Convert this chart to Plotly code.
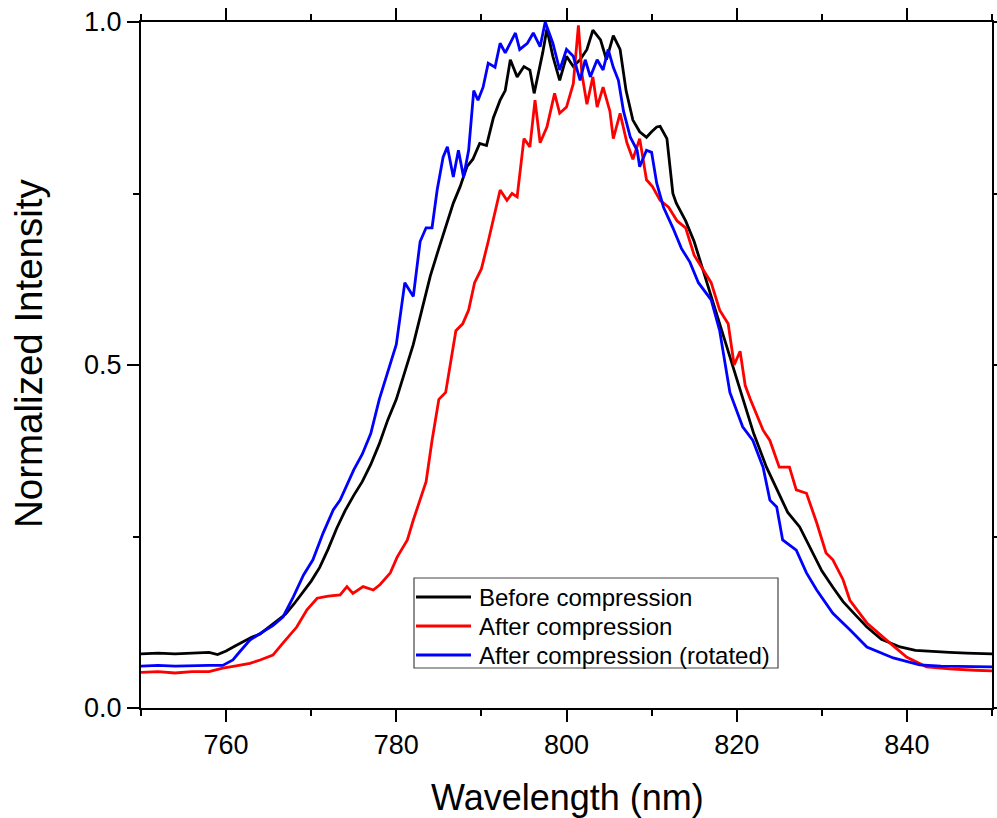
import plotly.graph_objects as go

# ---------------- data ----------------
before_x = [750, 752, 754, 756, 758, 759, 760, 761, 762, 763, 764, 765, 766, 767, 768, 769, 770, 771, 772, 773,
            774, 775, 776, 777, 778, 779, 780, 781, 782, 783, 784, 785, 786, 786.7, 787.5, 788.3, 789, 789.8, 790.6,
            791.4, 792.2, 792.8, 793.4, 794.2, 795, 795.7, 796.2, 797.2, 797.7, 798.4, 799.2, 800, 800.8, 801.6,
            802.4, 803.1, 804, 804.7, 805.5, 806.3, 807, 807.8, 808.6, 809.4, 810, 810.6, 811, 811.8, 812.5, 812.9,
            814, 815, 816, 817, 818, 819, 820, 820.7, 822, 823.5, 825, 826, 827.4, 829, 830, 831.3, 832.5, 834,
            835.3, 837, 839.2, 841, 843, 845, 847, 849, 850]
before_y = [0.079, 0.080, 0.079, 0.080, 0.081, 0.078, 0.083, 0.090, 0.097, 0.103, 0.108, 0.118, 0.127, 0.137, 0.152,
            0.168, 0.185, 0.205, 0.232, 0.262, 0.288, 0.310, 0.330, 0.355, 0.385, 0.420, 0.450, 0.490, 0.530, 0.580,
            0.630, 0.670, 0.710, 0.736, 0.760, 0.789, 0.800, 0.823, 0.820, 0.860, 0.886, 0.900, 0.945, 0.920, 0.935,
            0.930, 0.896, 0.955, 0.990, 0.950, 0.915, 0.950, 0.935, 0.945, 0.960, 0.988, 0.974, 0.945, 0.980, 0.960,
            0.900, 0.857, 0.840, 0.832, 0.840, 0.847, 0.848, 0.830, 0.750, 0.736, 0.710, 0.680, 0.640, 0.600, 0.560,
            0.520, 0.480, 0.449, 0.400, 0.351, 0.310, 0.285, 0.264, 0.225, 0.200, 0.176, 0.155, 0.135, 0.118, 0.100,
            0.089, 0.084, 0.082, 0.081, 0.080, 0.079, 0.079]

after_x = [750, 752, 754, 756, 758, 759.6, 761, 762.8, 764, 765.5, 766.7, 768.3, 769.5, 770.7, 772, 773.4, 774.2,
           774.9, 776.1, 777.3, 778.1, 779.3, 780.1, 781.3, 782, 782.8, 783.5, 784.2, 785, 785.8, 786.5, 787, 787.8,
           788.5, 789.2, 790, 790.8, 791.5, 792.2, 793, 793.6, 794.2, 795, 795.7, 796.3, 796.9, 797.7, 798.6, 799.2,
           800, 800.8, 801.4, 801.8, 802.4, 803.1, 803.6, 804.3, 805.1, 805.5, 806.3, 807.1, 807.8, 808.6, 809.4,
           810.1, 811, 812, 813, 814, 815, 816, 817, 818, 819, 819.7, 820.4, 821, 821.6, 823.1, 823.9, 825, 826.2,
           827, 828.2, 829.4, 830.5, 831.3, 832.5, 833.3, 835.3, 837.6, 840, 842.3, 845, 848, 850]
after_y = [0.052, 0.053, 0.051, 0.053, 0.053, 0.058, 0.061, 0.065, 0.070, 0.077, 0.095, 0.118, 0.143, 0.160, 0.163,
           0.165, 0.177, 0.167, 0.177, 0.172, 0.180, 0.197, 0.220, 0.245, 0.274, 0.303, 0.330, 0.390, 0.450, 0.460,
           0.510, 0.550, 0.560, 0.580, 0.620, 0.640, 0.680, 0.720, 0.755, 0.740, 0.750, 0.745, 0.830, 0.818, 0.886,
           0.824, 0.847, 0.896, 0.867, 0.876, 0.910, 0.995, 0.925, 0.880, 0.920, 0.876, 0.905, 0.870, 0.830, 0.867,
           0.824, 0.800, 0.830, 0.770, 0.760, 0.740, 0.730, 0.710, 0.700, 0.660, 0.640, 0.620, 0.580, 0.560, 0.500,
           0.520, 0.470, 0.450, 0.405, 0.390, 0.351, 0.351, 0.318, 0.313, 0.270, 0.226, 0.216, 0.187, 0.157, 0.124,
           0.099, 0.074, 0.060, 0.057, 0.055, 0.054]

rot_x = [750, 752, 754, 756, 758, 759.6, 760.8, 761.6, 762.8, 764.3, 765.5, 766.7, 767.9, 769.1, 770.2, 771.4, 772.6,
         773.4, 774.2, 775, 776, 777, 778, 779, 780, 781, 782, 782.8, 783.5, 784.2, 784.8, 785.5, 786, 786.7, 787.3,
         787.9, 788.5, 789.1, 789.6, 790.2, 790.8, 791.6, 792.2, 792.8, 793.4, 794, 794.5, 795.4, 796.1, 796.9, 797.5,
         797.8, 798.4, 799.2, 800, 800.8, 801.6, 802.2, 802.8, 803.6, 804.3, 804.9, 805.5, 806.1, 806.7, 807.5, 808.3,
         808.6, 809.4, 810, 810.6, 811.4, 812.5, 813.5, 814.5, 815.5, 817, 818, 819.2, 820.7, 821.9, 823.1, 823.9,
         824.7, 825.4, 827, 828.2, 829.4, 831.3, 833.3, 835.3, 838.4, 841.5, 844, 847, 850]
rot_y = [0.061, 0.062, 0.061, 0.062, 0.062, 0.062, 0.070, 0.082, 0.099, 0.111, 0.120, 0.133, 0.162, 0.194, 0.216,
         0.255, 0.289, 0.303, 0.325, 0.347, 0.370, 0.400, 0.450, 0.490, 0.530, 0.620, 0.600, 0.680, 0.700, 0.700,
         0.755, 0.803, 0.818, 0.774, 0.813, 0.774, 0.813, 0.900, 0.886, 0.905, 0.940, 0.934, 0.969, 0.955, 0.969,
         0.984, 0.960, 0.969, 0.984, 0.964, 1.000, 0.990, 0.969, 0.930, 0.960, 0.950, 0.915, 0.945, 0.920, 0.945,
         0.930, 0.960, 0.934, 0.915, 0.870, 0.832, 0.813, 0.789, 0.813, 0.810, 0.765, 0.730, 0.700, 0.670, 0.650,
         0.620, 0.595, 0.550, 0.460, 0.410, 0.390, 0.351, 0.303, 0.293, 0.245, 0.230, 0.197, 0.172, 0.138, 0.114,
         0.089, 0.073, 0.063, 0.061, 0.060, 0.060]

series_names = ["Before compression", "After compression", "After compression (rotated)"]
series_colors = ["#000000", "#FF0000", "#0000FF"]

x_ticks = [760, 780, 800, 820, 840]
y_ticks = [0.0, 0.5, 1.0]

# ---------------- figure ----------------
FONT = "Liberation Sans, Arial, sans-serif"
W, H = 997, 818
ML, MR, MT, MB = 141, 5, 22, 110
PW, PH = W - ML - MR, H - MT - MB


def px_to_paper_x(px):
    return (px - ML) / PW


def px_to_paper_y(py):
    return (H - MB - py) / PH


fig = go.Figure()
for xs, ys, name, col in zip([before_x, after_x, rot_x], [before_y, after_y, rot_y], series_names, series_colors):
    fig.add_trace(go.Scatter(x=xs, y=ys, mode="lines", name=name, showlegend=False,
                             line=dict(color=col, width=2.8)))

axis_common = dict(showline=True, linewidth=2, linecolor="black", mirror="ticks",
                   ticks="outside", tickwidth=2, tickcolor="black", ticklen=12,
                   showgrid=False, zeroline=False, automargin=False,
                   tickfont=dict(family=FONT, size=27, color="black"))

fig.update_xaxes(range=[750, 850], tickvals=x_ticks, ticktext=[str(v) for v in x_ticks],
                 minor=dict(dtick=10, tick0=750, ticks="outside", ticklen=6, tickwidth=2, tickcolor="black"),
                 **axis_common)
fig.update_yaxes(range=[0, 1], tickvals=y_ticks, ticktext=["%.1f" % v for v in y_ticks],
                 minor=dict(dtick=0.25, tick0=0, ticks="outside", ticklen=6, tickwidth=2, tickcolor="black"),
                 **axis_common)

fig.add_annotation(text="Wavelength (nm)", xref="paper", yref="paper", x=px_to_paper_x(567),
                   y=px_to_paper_y(797), showarrow=False,
                   font=dict(family=FONT, size=36, color="black"), xanchor="center", yanchor="middle")
fig.add_annotation(text="Normalized Intensity", xref="paper", yref="paper", x=px_to_paper_x(28),
                   y=px_to_paper_y(353), textangle=-90, showarrow=False,
                   font=dict(family=FONT, size=38.5, color="black"), xanchor="center", yanchor="middle")

# ---- legend box drawn from the series names / colours ----
box = (414, 578, 778, 668)
fig.add_shape(type="rect", xref="paper", yref="paper",
              x0=px_to_paper_x(box[0]), x1=px_to_paper_x(box[2]),
              y0=px_to_paper_y(box[3]), y1=px_to_paper_y(box[1]),
              line=dict(color="#444444", width=1.2), fillcolor="white", layer="above")
row_y = [597, 626, 655]
for name, col, ry in zip(series_names, series_colors, row_y):
    fig.add_shape(type="line", xref="paper", yref="paper",
                  x0=px_to_paper_x(416), x1=px_to_paper_x(471),
                  y0=px_to_paper_y(ry), y1=px_to_paper_y(ry),
                  line=dict(color=col, width=2.8), layer="above")
    fig.add_annotation(text=name, xref="paper", yref="paper", x=px_to_paper_x(477), y=px_to_paper_y(ry),
                       xanchor="left", yanchor="middle", showarrow=False,
                       font=dict(family=FONT, size=24, color="black"))

fig.update_layout(
    width=W, height=H,
    margin=dict(l=ML, r=MR, t=MT, b=MB, autoexpand=False),
    paper_bgcolor="white", plot_bgcolor="white",
    showlegend=False,
)

fig.write_html("out.html",
               config={"displayModeBar": False, "responsive": False},
               post_script="document.body.style.margin='0';document.body.style.padding='0';"
                           "document.body.style.overflow='hidden';")
